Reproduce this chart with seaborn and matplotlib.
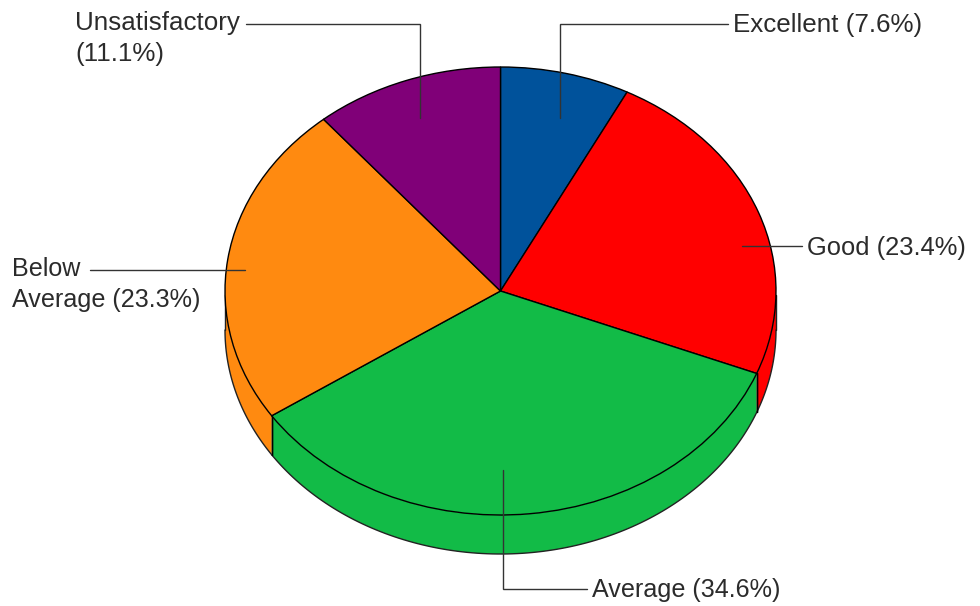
import numpy as np
import matplotlib
matplotlib.use("Agg")
import matplotlib.pyplot as plt
import seaborn as sns

categories = ["Excellent", "Good", "Average", "Below Average", "Unsatisfactory"]
values = [7.6, 23.4, 34.6, 23.3, 11.1]
colors = ["#00529B", "#FF0000", "#12BB47", "#FF8A10", "#800078"]
labels = ["Excellent (7.6%)", "Good (23.4%)", "Average (34.6%)",
          "Below\nAverage (23.3%)", "Unsatisfactory\n(11.1%)"]

sns.set_theme(style="white")
plt.rcParams["font.family"] = ["Liberation Sans", "DejaVu Sans"]

W, H = 980, 606
CX, CY, RX, RY, DEPTH = 500.5, 291, 275.5, 224, 39
TEXT = "#2b2b2b"

fig = plt.figure(figsize=(W / 100, H / 100), dpi=100, facecolor="white")

# pixel-space overlay for leaders and labels
bg = fig.add_axes([0, 0, 1, 1], zorder=3)
bg.set_xlim(0, W)
bg.set_ylim(H, 0)
bg.axis("off")
bg.patch.set_alpha(0)

# pie axes: the unit circle becomes the top ellipse
ax = fig.add_axes([(CX - RX) / W, 1 - (CY + RY) / H, 2 * RX / W, 2 * RY / H], zorder=1)
ax.pie(values, colors=colors, startangle=90, counterclock=False, radius=1,
       wedgeprops=dict(edgecolor="black", linewidth=1.0, antialiased=True))
ax.set_aspect("auto")
ax.set_xlim(-1, 1)
ax.set_ylim(-1, 1)
ax.axis("off")
for p in ax.patches:
    p.set_clip_on(False)
    p.set_zorder(3)

# side wall of the disc, visible only on the lower half
d = DEPTH / RY
bounds = np.cumsum([0] + values) / sum(values) * 2 * np.pi
for a0, a1, c in zip(bounds[:-1], bounds[1:], colors):
    lo, hi = max(a0, np.pi / 2), min(a1, 3 * np.pi / 2)
    if hi <= lo:
        continue
    t = np.linspace(lo, hi, 120)
    x, y = np.sin(t), np.cos(t)
    ax.fill(np.r_[x, x[::-1]], np.r_[y, (y - d)[::-1]], facecolor=c, edgecolor="none",
            clip_on=False, zorder=1)
    ax.plot(x, y - d, color="#222222", lw=1.0, clip_on=False, zorder=2)
    for e in (a0, a1):
        if np.pi / 2 < e < 3 * np.pi / 2:
            ax.plot([np.sin(e)] * 2, [np.cos(e), np.cos(e) - d], color="black", lw=1.0,
                    clip_on=False, zorder=2)
for s in (-1, 1):
    ax.plot([s, s], [-0.02, -d], color="#222222", lw=1.0, clip_on=False, zorder=2)

# leaders and labels
leaders = [
    [(560, 118), (560, 24), (728, 24)],
    [(742, 246), (802, 246)],
    [(503, 470), (503, 589), (587, 589)],
    [(245, 270), (90, 270)],
    [(420, 118), (420, 24), (246, 24)],
]
anchors = [(733, 25, "left"), (807, 248, "left"), (592, 590, "left"), (12, 284.5, "left"), (75, 38.5, "left")]
sizes = [18.7, 18.4, 18.1, 18.1, 18.7]
for pts, (tx, ty, ha), lab, fs in zip(leaders, anchors, labels, sizes):
    xs, ys = zip(*pts)
    bg.plot(xs, ys, color="#333333", lw=1.0, solid_joinstyle="miter")
    bg.text(tx, ty, lab, ha=ha, va="center", fontsize=fs, color=TEXT, linespacing=1.36)

fig.savefig("out.png", dpi=100)
